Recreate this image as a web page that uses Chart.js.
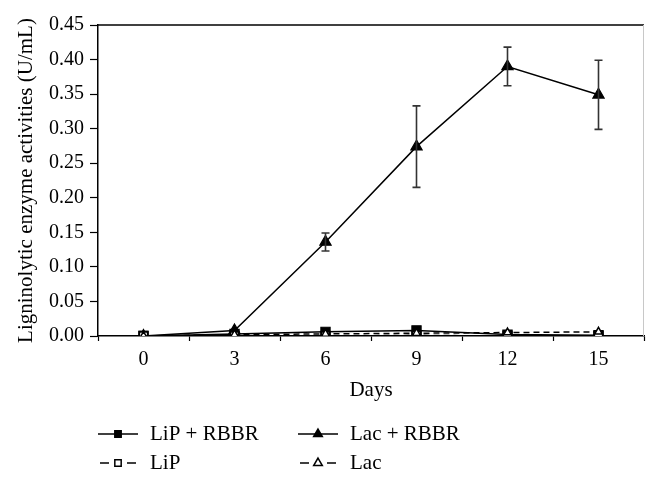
<!DOCTYPE html>
<html>
<head>
<meta charset="utf-8">
<script src="https://cdn.jsdelivr.net/npm/chart.js@4.4.0/dist/chart.umd.min.js"></script>
<style>
  body { margin: 0; background: #fff; }
  #wrap { width: 658px; height: 482px; }
</style>
</head>
<body>
<div id="wrap"><canvas id="c"></canvas></div>
<script>
const DAYS = ["0", "3", "6", "9", "12", "15"];
const LIP_RBBR = [0, 0.003, 0.006, 0.008, 0.002, 0.001];
const LAC_RBBR = [0, 0.008, 0.136, 0.274, 0.390, 0.349];
const LAC_RBBR_ERR = [0, 0, 0.013, 0.059, 0.028, 0.050];
const LIP = [0, 0, 0, 0.001, 0, 0];
const LAC = [0, 0.002, 0.003, 0.004, 0.005, 0.006];

const FONT = "'Liberation Serif', 'Times New Roman', serif";

// error bars on top of the Lac + RBBR line
const errorBars = {
  id: "errorBars",
  afterDatasetsDraw(chart) {
    const ctx = chart.ctx;
    const x = chart.scales.x, y = chart.scales.y;
    ctx.save();
    ctx.strokeStyle = "#333";
    ctx.lineWidth = 1.6;
    LAC_RBBR.forEach((v, i) => {
      const e = LAC_RBBR_ERR[i];
      if (!e) return;
      const px = x.getPixelForValue(i);
      const top = y.getPixelForValue(v + e);
      const bot = y.getPixelForValue(v - e);
      ctx.beginPath();
      ctx.moveTo(px, top); ctx.lineTo(px, bot);
      ctx.moveTo(px - 4, top); ctx.lineTo(px + 4, top);
      ctx.moveTo(px - 4, bot); ctx.lineTo(px + 4, bot);
      ctx.stroke();
    });
    ctx.restore();
  }
};

// top line and light right edge of the plot box
const frame = {
  id: "frame",
  beforeDatasetsDraw(chart) {
    const a = chart.chartArea, ctx = chart.ctx;
    ctx.save();
    ctx.strokeStyle = "#000";
    ctx.lineWidth = 1.5;
    ctx.beginPath();
    ctx.moveTo(a.left, a.top); ctx.lineTo(a.right, a.top);
    ctx.stroke();
    ctx.strokeStyle = "#c8c8c8";
    ctx.lineWidth = 1;
    ctx.beginPath();
    ctx.moveTo(a.right - 0.5, a.top); ctx.lineTo(a.right - 0.5, a.bottom);
    ctx.stroke();
    ctx.restore();
  }
};

// two-column legend under the axis
const legendBox = {
  id: "legendBox",
  afterDraw(chart) {
    const ctx = chart.ctx;
    const spots = [
      { ds: 0, x: 98, y: 434 },
      { ds: 1, x: 298, y: 434 },
      { ds: 2, x: 98, y: 463 },
      { ds: 3, x: 298, y: 463 },
    ];
    ctx.save();
    spots.forEach(s => {
      const d = chart.data.datasets[s.ds];
      ctx.strokeStyle = "#000";
      ctx.lineWidth = 1.5;
      ctx.beginPath();
      if (d.borderDash) {
        ctx.moveTo(s.x + 2, s.y); ctx.lineTo(s.x + 11, s.y);
        ctx.moveTo(s.x + 29, s.y); ctx.lineTo(s.x + 38, s.y);
      } else {
        ctx.moveTo(s.x, s.y); ctx.lineTo(s.x + 40, s.y);
      }
      ctx.stroke();
      ctx.fillStyle = d.pointBackgroundColor;
      ctx.strokeStyle = "#000";
      Chart.helpers.drawPoint(ctx, {
        pointStyle: d.pointStyle,
        radius: d.pointStyle === "rect" ? 4.5 : 5,
        borderWidth: 1.5,
      }, s.x + 20, s.y);
      ctx.fillStyle = "#000";
      ctx.font = "21px " + FONT;
      ctx.textBaseline = "middle";
      ctx.fillText(d.label, s.x + 52, s.y);
    });
    ctx.restore();
  }
};

new Chart(document.getElementById("c"), {
  type: "line",
  data: {
    labels: DAYS,
    datasets: [
      {
        label: "LiP + RBBR", data: LIP_RBBR, order: 3,
        borderColor: "#000", borderWidth: 1.5,
        pointStyle: "rect", pointRadius: 6.5, pointBackgroundColor: "#000",
        pointBorderColor: "#000", pointBorderWidth: 1.2,
      },
      {
        label: "Lac + RBBR", data: LAC_RBBR, order: 4,
        borderColor: "#000", borderWidth: 1.5,
        pointStyle: "triangle", pointRadius: 6.5, pointBackgroundColor: "#000",
        pointBorderColor: "#000", pointBorderWidth: 1.2,
      },
      {
        label: "LiP", data: LIP, order: 2, borderDash: [6, 4],
        borderColor: "#000", borderWidth: 1.5,
        pointStyle: "rect", pointRadius: 6, pointBackgroundColor: "#fff",
        pointBorderColor: "#000", pointBorderWidth: 1.8,
      },
      {
        label: "Lac", data: LAC, order: 1, borderDash: [6, 4],
        borderColor: "#000", borderWidth: 1.5,
        pointStyle: "triangle", pointRadius: 4.5, pointBackgroundColor: "#fff",
        pointBorderColor: "#000", pointBorderWidth: 1.5,
      },
    ],
  },
  options: {
    responsive: true,
    maintainAspectRatio: false,
    animation: false,
    layout: { padding: { left: 0, right: 14, top: 25, bottom: 72 } },
    plugins: { legend: { display: false }, tooltip: { enabled: false } },
    scales: {
      x: {
        offset: true,
        grid: { drawOnChartArea: false, offset: true, color: "#000", tickLength: 5, tickWidth: 1.2 },
        border: { color: "#000", width: 1.5 },
        ticks: { color: "#000", font: { family: FONT, size: 20 }, padding: 7, maxRotation: 0 },
        title: { display: true, text: "Days", color: "#000", font: { family: FONT, size: 21 }, padding: { top: 0, bottom: 7 } },
        afterFit: s => { s.height = 74; },
      },
      y: {
        min: 0, max: 0.45,
        grid: { drawOnChartArea: false, color: "#000", tickLength: 8, tickWidth: 1.2 },
        border: { color: "#000", width: 1.5 },
        ticks: { stepSize: 0.05, color: "#000", font: { family: FONT, size: 20 }, padding: 6,
                 callback: v => v.toFixed(2) },
        title: { display: true, text: "Ligninolytic enzyme activities (U/mL)", color: "#000",
                 font: { family: FONT, size: 21 }, padding: { top: 14, bottom: 0 } },
        afterFit: s => { s.width = 98; },
      },
    },
  },
  plugins: [frame, errorBars, legendBox],
});
</script>
</body>
</html>
